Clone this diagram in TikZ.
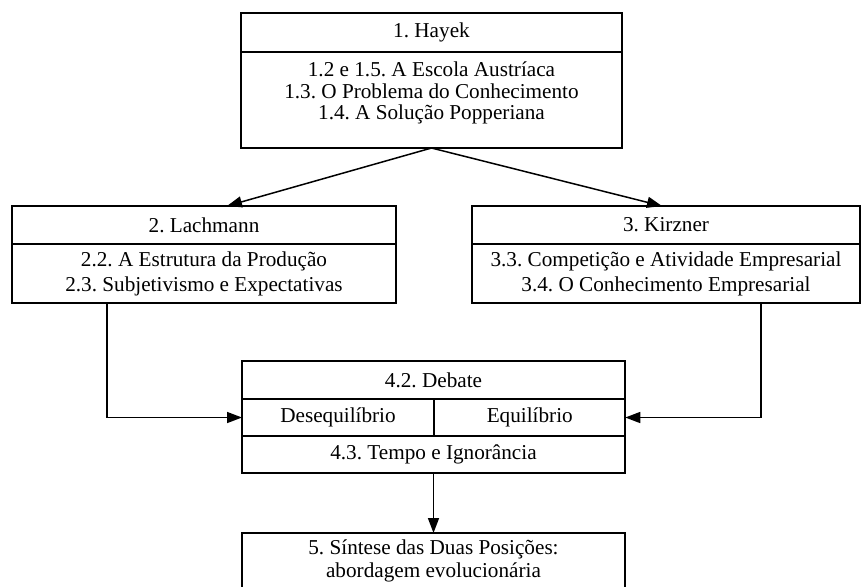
\documentclass[tikz,border=0pt]{standalone}
\usepackage{fontspec}
\setmainfont{Liberation Serif}
\usetikzlibrary{arrows.meta}
\tikzset{
  box/.style={draw, line width=1pt, inner sep=0pt, outer sep=0pt, align=center,
    font=\fontsize{10.6}{10.8}\selectfont\frenchspacing},
  wide/.style={font=\fontsize{10.6}{12.5}\selectfont\frenchspacing},
  arr/.style={-{Triangle[length=7.5pt,width=5.5pt]}, line width=0.75pt},
}
\begin{document}
\begin{tikzpicture}[x=0.5pt,y=-0.5pt]
  \useasboundingbox (0,0) rectangle (861,586);
  \node[box, minimum width=190.5pt, minimum height=19.5pt] (ht) at (431.5,32.5) {1. Hayek};
  \node[box, minimum width=190.5pt, minimum height=48pt, text depth=9pt] (hb) at (431.5,100)
    {1.2 e 1.5. A Escola Austríaca\\1.3. O Problema do Conhecimento\\1.4. A Solução Popperiana};
  \node[box, minimum width=192pt, minimum height=19pt] (lt) at (204,225) {2. Lachmann};
  \node[box, wide, minimum width=192pt, minimum height=29.5pt] (lb) at (204,273.5)
    {2.2. A Estrutura da Produção\\2.3. Subjetivismo e Expectativas};
  \node[box, minimum width=194pt, minimum height=19pt] (kt) at (666,225) {3. Kirzner};
  \node[box, wide, minimum width=194pt, minimum height=29.5pt] (kb) at (666,273.5)
    {3.3. Competição e Atividade Empresarial\\3.4. O Conhecimento Empresarial};
  \node[box, minimum width=191.5pt, minimum height=19pt] (dt) at (433.5,380) {4.2. Debate};
  \node[box, minimum width=96pt, minimum height=18.5pt] (dl) at (338,417.5) {Desequilíbrio};
  \node[box, minimum width=95.5pt, minimum height=18.5pt] (eq) at (529.75,417.5) {Equilíbrio};
  \node[box, minimum width=191.5pt, minimum height=18.5pt] (tb) at (433.5,454.5) {4.3. Tempo e Ignorância};
  \node[box, minimum width=191.5pt, minimum height=31pt, text depth=5.5pt,
    font=\fontsize{10.6}{11.2}\selectfont\frenchspacing] (st) at (433.5,564)
    {5. Síntese das Duas Posições:\\abordagem evolucionária};
  \draw[arr] (hb.south) -- ([xshift=11.5pt]lt.north);
  \draw[arr] (hb.south) -- ([xshift=-2pt]kt.north);
  \draw[arr] ([xshift=47.5pt]lb.south west) |- (dl.west);
  \draw[arr] ([xshift=-49.5pt]kb.south east) |- (eq.east);
  \draw[arr] (tb.south) -- (st.north);
\end{tikzpicture}
\end{document}
